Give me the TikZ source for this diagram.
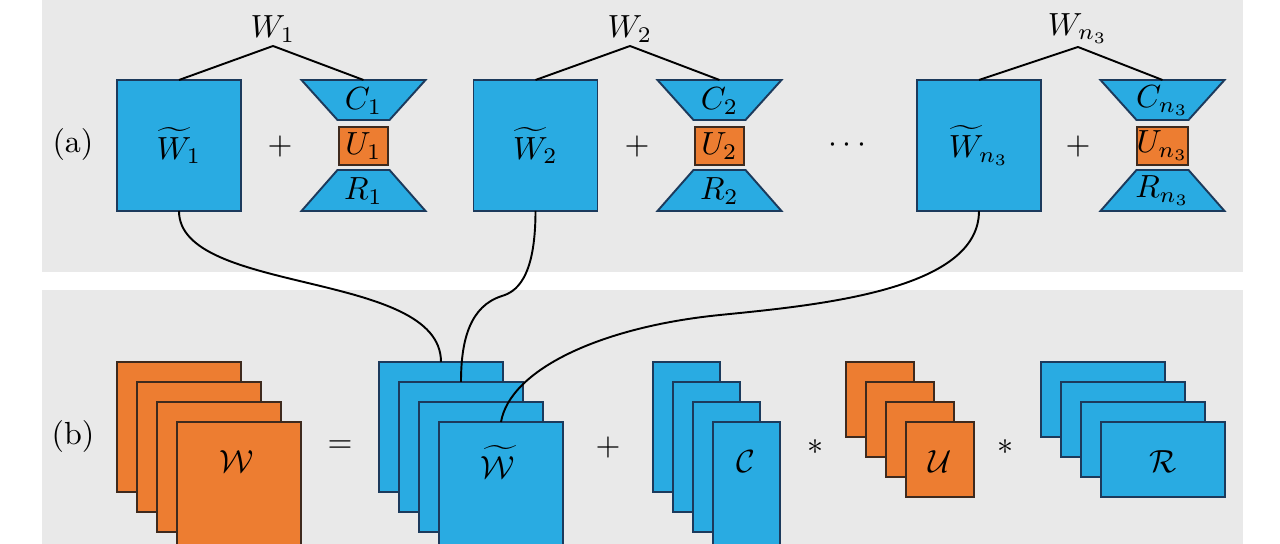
\documentclass[tikz,border=0pt]{standalone}
\usepackage{amsmath}
\usepackage{tikz}
\usetikzlibrary{positioning}
\definecolor{panelgray}{RGB}{233,233,233}
\definecolor{boxblue}{RGB}{41,171,226}
\definecolor{boxline}{RGB}{28,58,92}
\definecolor{boxorange}{RGB}{237,125,49}
\definecolor{orangeline}{RGB}{62,42,30}
\tikzset{%
  every block/.style={
    inner sep=0pt,
    outer sep=0pt,
    line width=0.6pt
  },
  blue block/.style={
    every block,
    draw=boxline,
    fill=boxblue
  },
  orange block/.style={
    every block,
    draw=orangeline,
    fill=boxorange
  },
  big square/.style={blue block, minimum width=38.75pt, minimum height=40.94pt},
  core box/.style={orange block, minimum width=15.31pt, minimum height=11.88pt},
  tall sheet/.style={anchor=north west, minimum width=38.75pt, minimum height=40.63pt},
  thin sheet/.style={blue block, anchor=north west, minimum width=20.94pt, minimum height=40.63pt},
  small sheet/.style={orange block, anchor=north west, minimum width=21.25pt, minimum height=23.44pt},
  wide sheet/.style={blue block, anchor=north west, minimum width=38.75pt, minimum height=23.44pt},
  tree label/.style={anchor=south, inner sep=1pt},
  link/.style={line width=0.6pt, black}
}

\begin{document}
\begin{tikzpicture}[x=0.3125pt, y=-0.3125pt]
\clip (0,0) rectangle (1280,544);
\fill[panelgray] (42,0) rectangle (1243,272);
\fill[panelgray] (42,290) rectangle (1243,544);

% (a) three blocks
\node (la) at (73,145) {(a)};

\node[big square] (sq1) at (179,145.5) {$\widetilde{W}_1$};
\node (p1) at (280,147) {$+$};
\draw[blue block] (301.5,80) -- (425.5,80) -- (389.5,120) -- (337.5,120) -- cycle;
\node (c1) at (363.5,101) {$C_1$};
\node[core box] (u1) at (363.5,146) {$U_1$};
\draw[blue block] (337.5,170) -- (389.5,170) -- (425.5,211) -- (301.5,211) -- cycle;
\node (r1) at (363.5,191) {$R_1$};
\coordinate (ct1) at (363.5,80);
\node[tree label] (lab1) at (273,46) {$W_1$};
\draw[link] (lab1.south) -- (sq1.north);
\draw[link] (lab1.south) -- (ct1);

\node[big square] (sq2) at (535.5,145.5) {$\widetilde{W}_2$};
\node (p2) at (637,147) {$+$};
\draw[blue block] (657.5,80) -- (781.5,80) -- (745.5,120) -- (693.5,120) -- cycle;
\node (c2) at (719.5,101) {$C_2$};
\node[core box] (u2) at (719.5,146) {$U_2$};
\draw[blue block] (693.5,170) -- (745.5,170) -- (781.5,211) -- (657.5,211) -- cycle;
\node (r2) at (719.5,191) {$R_2$};
\coordinate (ct2) at (719.5,80);
\node[tree label] (lab2) at (630,46) {$W_2$};
\draw[link] (lab2.south) -- (sq2.north);
\draw[link] (lab2.south) -- (ct2);

\node (dots) at (850,145) {$\cdots$};

\node[big square] (sq3) at (979,145.5) {$\widetilde{W}_{n_3}$};
\node (p3) at (1078,147) {$+$};
\draw[blue block] (1100.5,80) -- (1224.5,80) -- (1188.5,120) -- (1136.5,120) -- cycle;
\node (c3) at (1162.5,101) {$C_{n_3}$};
\node[core box] (u3) at (1162.5,146) {$U_{n_3}$};
\draw[blue block] (1136.5,170) -- (1188.5,170) -- (1224.5,211) -- (1100.5,211) -- cycle;
\node (r3) at (1162.5,191) {$R_{n_3}$};
\coordinate (ct3) at (1162.5,80);
\node[tree label] (lab3) at (1078,47) {$W_{n_3}$};
\draw[link] (lab3.south) -- (sq3.north);
\draw[link] (lab3.south) -- (ct3);

% (b) stacked tensors
\node (lb) at (73,437) {(b)};

\node[tall sheet, orange block] (w1) at (117,362) {};
\node[tall sheet, orange block] (w2) at (137,382) {};
\node[tall sheet, orange block] (w3) at (157,402) {};
\node[tall sheet, orange block] (w4) at (177,422) {};
\node (wlab) at (237,462) {$\mathcal{W}$};

\node (eq) at (340,447) {$=$};

\node[tall sheet, blue block] (t1) at (379,362) {};
\node[tall sheet, blue block] (t2) at (399,382) {};
\node[tall sheet, blue block] (t3) at (419,402) {};
\node[tall sheet, blue block] (t4) at (439,422) {};
\node (tlab) at (498,462) {$\widetilde{\mathcal{W}}$};

\node (plus) at (608,448) {$+$};

\node[thin sheet] (cs1) at (653,362) {};
\node[thin sheet] (cs2) at (673,382) {};
\node[thin sheet] (cs3) at (693,402) {};
\node[thin sheet] (cs4) at (713,422) {};
\node (clab) at (746,462) {$\mathcal{C}$};

\node (ast1) at (815,447) {$*$};

\node[small sheet] (us1) at (846,362) {};
\node[small sheet] (us2) at (866,382) {};
\node[small sheet] (us3) at (886,402) {};
\node[small sheet] (us4) at (906,422) {};
\node (ulab) at (940,462) {$\mathcal{U}$};

\node (ast2) at (1005,447) {$*$};

\node[wide sheet] (rs1) at (1041,362) {};
\node[wide sheet] (rs2) at (1061,382) {};
\node[wide sheet] (rs3) at (1081,402) {};
\node[wide sheet] (rs4) at (1101,422) {};
\node (rlab) at (1163,462) {$\mathcal{R}$};

% links from (a) to (b)
\draw[link] (sq1.south) .. controls (179,295) and (441,270) .. (t1.north);
\draw[link] (sq2.south) .. controls (535.5,280) and (515,292) .. (502,296)
  .. controls (470,306) and (461,340) .. (t2.north);
\draw[link] (sq3.south) .. controls (979,290) and (820,305) .. (720,315)
  .. controls (600,327) and (510,370) .. (t4.north);
\end{tikzpicture}
\end{document}
